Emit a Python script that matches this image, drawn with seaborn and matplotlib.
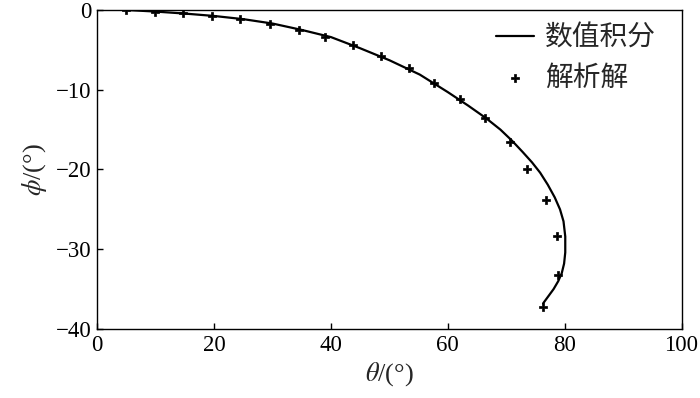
import numpy as np
import pandas as pd
import matplotlib
matplotlib.use('Agg')
import matplotlib.pyplot as plt
import seaborn as sns

# numerical integration curve (theta, phi) in degrees
theta_num = [5, 10, 15, 20, 25, 30, 35, 40, 45, 50, 55.2, 60, 63.5, 66.6, 69,
             71, 72.8, 74.4, 75.8, 77.1, 78.3, 79.2, 79.8, 80.1, 80.1, 79.9,
             79.5, 78.9, 78.1, 77.2, 76.3]
phi_num = [0, -0.2, -0.45, -0.75, -1.15, -1.7, -2.5, -3.4, -4.8, -6.3, -8.1,
           -10.3, -12.0, -13.6, -15.0, -16.4, -17.8, -19.1, -20.4, -21.9,
           -23.5, -25.0, -26.5, -28.4, -30.4, -31.8, -33.0, -34.0, -35.0,
           -35.9, -36.8]

# analytic solution points
theta_ana = [4.9, 9.8, 14.7, 19.6, 24.5, 29.5, 34.5, 39.0, 43.7, 48.5, 53.3,
             57.6, 62.1, 66.4, 70.6, 73.6, 76.8, 78.7, 78.9, 76.3]
phi_ana = [0, -0.2, -0.4, -0.7, -1.1, -1.7, -2.5, -3.4, -4.4, -5.8, -7.3,
           -9.2, -11.2, -13.5, -16.6, -19.9, -23.8, -28.3, -33.2, -37.2]

labels = ['数值积分', '解析解']

sns.set_theme(style='ticks')
plt.rcParams['font.family'] = ['Liberation Serif', 'Noto Sans CJK SC']
plt.rcParams['mathtext.fontset'] = 'stix'

df_num = pd.DataFrame({'theta': theta_num, 'phi': phi_num})
df_ana = pd.DataFrame({'theta': theta_ana, 'phi': phi_ana})

fig = plt.figure(figsize=(7, 3.98), dpi=100)
ax = fig.add_axes([0.139, 0.1734, 0.8346, 0.8015])

sns.lineplot(data=df_num, x='theta', y='phi', sort=False, estimator=None,
             color='black', lw=1.6, ax=ax, label=labels[0])
sns.scatterplot(data=df_ana, x='theta', y='phi', marker='P', s=38,
                color='black', edgecolor='black', linewidth=0.5, ax=ax,
                label=labels[1], zorder=3)

ax.set_xlim(0, 100)
ax.set_ylim(-40, 0)
ax.set_xticks(np.arange(0, 101, 20))
ax.set_yticks(np.arange(-40, 1, 10))
ax.set_yticklabels(['\u221240', '\u221230', '\u221220', '\u221210', '0'])
ax.tick_params(direction='in', length=4.5, width=1, labelsize=16.5,
               colors='black', pad=4)
for sp in ax.spines.values():
    sp.set_visible(True)
    sp.set_linewidth(1)
    sp.set_color('black')

ax.set_xlabel(r'$\theta$/(°)', fontsize=19, labelpad=3)
ax.set_ylabel(r'$\phi$/(°)', fontsize=19, labelpad=5)

ax.legend(loc='upper left', bbox_to_anchor=(0.708, 0.935),
          bbox_transform=fig.transFigure, frameon=False, fontsize=20,
          handlelength=1.4, handletextpad=0.38, labelspacing=0.5,
          borderpad=0, borderaxespad=0)

fig.savefig('out.png', dpi=100)
